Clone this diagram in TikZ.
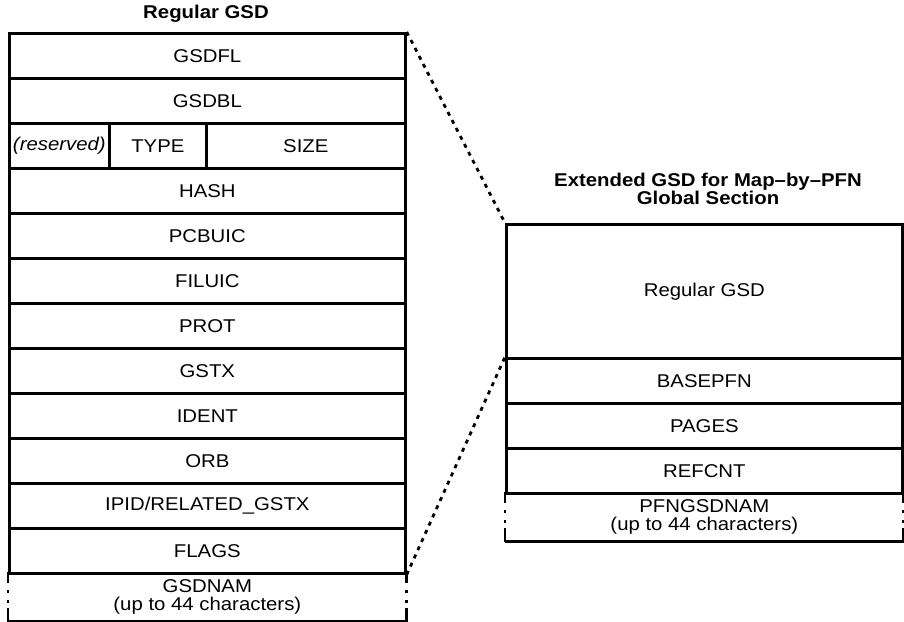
\documentclass[tikz,border=0pt]{standalone}
\usepackage{fontspec}
\setmainfont{Liberation Sans}[FakeStretch=1.1]
\begin{document}
\begin{tikzpicture}[x=1pt,y=-1pt, line width=2.7pt,
  every node/.style={font=\fontsize{18.5}{17.5}\selectfont},
  fld/.style={draw, rectangle, minimum width=396pt, minimum height=45pt,
    inner sep=0pt, anchor=north west},
  subfld/.style={fld, minimum width=#1},
  namefld/.style={rectangle, minimum width=396pt, minimum height=47pt,
    inner sep=0pt, anchor=north west, align=center},
  sidepat/.style={dash pattern=on 11pt off 7pt on 3pt off 7pt on 3pt off 5pt on 11pt off 0pt},
  dotline/.style={line width=2.8pt, dash pattern=on 4pt off 5pt},
  ttl/.style={font=\fontsize{18.5}{16}\selectfont\bfseries, align=center}]
\useasboundingbox (0,0) rectangle (904,621);

% titles
\node[ttl] (t1) at (206,14) {Regular GSD};
\node[ttl] (t2) at (708,189) {Extended GSD for Map–by–PFN\\Global Section};

% left structure
\node[fld] (gsdfl) at (8,32) {GSDFL};
\node[fld] (gsdbl) at (8,77) {GSDBL};
\node[subfld=100pt] (rsv) at (8,122) {\itshape (reserved)};
\node[subfld=97pt] (type) at (108,122) {TYPE};
\node[subfld=199pt] (size) at (205,122) {SIZE};
\node[fld] (hash) at (8,167) {HASH};
\node[fld] (pcbuic) at (8,212) {PCBUIC};
\node[fld] (filuic) at (8,257) {FILUIC};
\node[fld] (prot) at (8,302) {PROT};
\node[fld] (gstx) at (8,347) {GSTX};
\node[fld] (ident) at (8,392) {IDENT};
\node[fld] (orb) at (8,437) {ORB};
\node[fld] (ipid) at (8,482) {IPID/RELATED\_GSTX};
\node[fld] (flags) at (8,527) {FLAGS};
\node[namefld] (gsdnam) at (8,572) {GSDNAM\\(up to 44 characters)};
\draw (gsdnam.south west) -- (gsdnam.south east);
\draw[sidepat] (gsdnam.north west) -- (gsdnam.south west);
\draw[sidepat] (gsdnam.north east) -- (gsdnam.south east);

% right structure
\node[fld, minimum height=134pt] (rgsd) at (505,223) {Regular GSD};
\node[fld] (basepfn) at (505,357) {BASEPFN};
\node[fld] (pages) at (505,402) {PAGES};
\node[fld] (refcnt) at (505,447) {REFCNT};
\node[namefld] (pfnname) at (505,492) {PFNGSDNAM\\(up to 44 characters)};
\draw (pfnname.south west) -- (pfnname.south east);
\draw[sidepat] (pfnname.north west) -- (pfnname.south west);
\draw[sidepat] (pfnname.north east) -- (pfnname.south east);

% connectors
\draw[dotline] (gsdfl.north east) -- (rgsd.north west);
\draw[dotline] (flags.south east) -- (basepfn.north west);
\end{tikzpicture}
\end{document}
